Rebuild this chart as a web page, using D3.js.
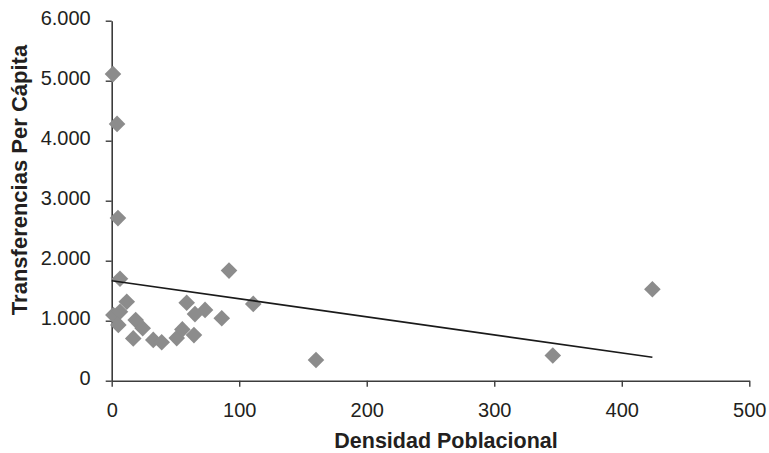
<!DOCTYPE html>
<html>
<head>
<meta charset="utf-8">
<script src="https://cdn.jsdelivr.net/npm/d3@7"></script>
<style>
  html, body { margin: 0; padding: 0; background: #fff; }
  svg { display: block; }
  text { font-family: "Liberation Sans", Arial, sans-serif; fill: #231f20; }
</style>
</head>
<body>
<svg id="chart" width="769" height="453"></svg>
<script>
// Data
const densidad = [1, 4.2, 4.9, 6.5, 1.3, 6.5, 5.2, 11.8, 16.9, 18.8, 24.3, 32.6, 39.2, 51, 55.4, 58.8, 64.5, 65.3, 73.2, 86.3, 92, 111, 160.2, 345.9, 424];
const transferencias = [5110, 4280, 2710, 1700, 1095, 1150, 930, 1315, 705, 1010, 875, 680, 640, 710, 855, 1300, 760, 1110, 1180, 1040, 1835, 1280, 345, 420, 1525];
const trendX = [0, 424];
const trendY = [1667, 390];
const xTicks = [0, 100, 200, 300, 400, 500];
const yTicks = [0, 1000, 2000, 3000, 4000, 5000, 6000];
const xTitle = "Densidad Poblacional";
const yTitle = "Transferencias Per Cápita";

const svg = d3.select("#chart");
const mLeft = 111.7, mRight = 749.3, mTop = 20.7, mBottom = 380.7;

const x = d3.scaleLinear().domain([0, 500]).range([mLeft, mRight]);
const y = d3.scaleLinear().domain([0, 6000]).range([mBottom, mTop]);

const fmt = d => d3.format(",")(d).replace(/,/g, ".");
const axisColor = "#3c3c3c";

// X axis
const gx = svg.append("g").attr("transform", `translate(0,${mBottom})`)
  .call(d3.axisBottom(x).tickValues(xTicks).tickSize(6).tickSizeOuter(0).tickPadding(20).tickFormat(d3.format("d")));
// Y axis
const gy = svg.append("g").attr("transform", `translate(${mLeft},0)`)
  .call(d3.axisLeft(y).tickValues(yTicks).tickSize(6).tickSizeOuter(0).tickPadding(15).tickFormat(fmt));

[gx, gy].forEach(g => {
  g.select(".domain").attr("stroke", axisColor).attr("stroke-width", 1.6);
  g.selectAll(".tick line").attr("stroke", axisColor).attr("stroke-width", 1.4);
  g.selectAll(".tick text").attr("font-size", 20)
    .attr("font-family", "'Liberation Sans', Arial, sans-serif").attr("fill", "#231f20");
});
gy.selectAll(".tick text").attr("dy", "0.17em");
gx.selectAll(".tick text").attr("dy", "0.5em");

// Points (diamonds)
const r = 8.3;
const diamond = `M0,${-r}L${r},0L0,${r}L${-r},0Z`;
svg.append("g").selectAll("path")
  .data(densidad.map((d, i) => [d, transferencias[i]]))
  .join("path")
  .attr("d", diamond)
  .attr("transform", d => `translate(${x(d[0])},${y(d[1])})`)
  .attr("fill", "#8c8c8c");

// Trend line
svg.append("line")
  .attr("x1", x(trendX[0])).attr("y1", y(trendY[0]))
  .attr("x2", x(trendX[1])).attr("y2", y(trendY[1]))
  .attr("stroke", "#1a1a1a").attr("stroke-width", 1.6);

// Axis titles
svg.append("text")
  .attr("x", 446).attr("y", 448)
  .attr("text-anchor", "middle")
  .attr("font-size", 21.5).attr("font-weight", "bold")
  .text(xTitle);

svg.append("text")
  .attr("transform", "translate(27,180) rotate(-90)")
  .attr("text-anchor", "middle")
  .attr("font-size", 22).attr("font-weight", "bold")
  .text(yTitle);
</script>
</body>
</html>
